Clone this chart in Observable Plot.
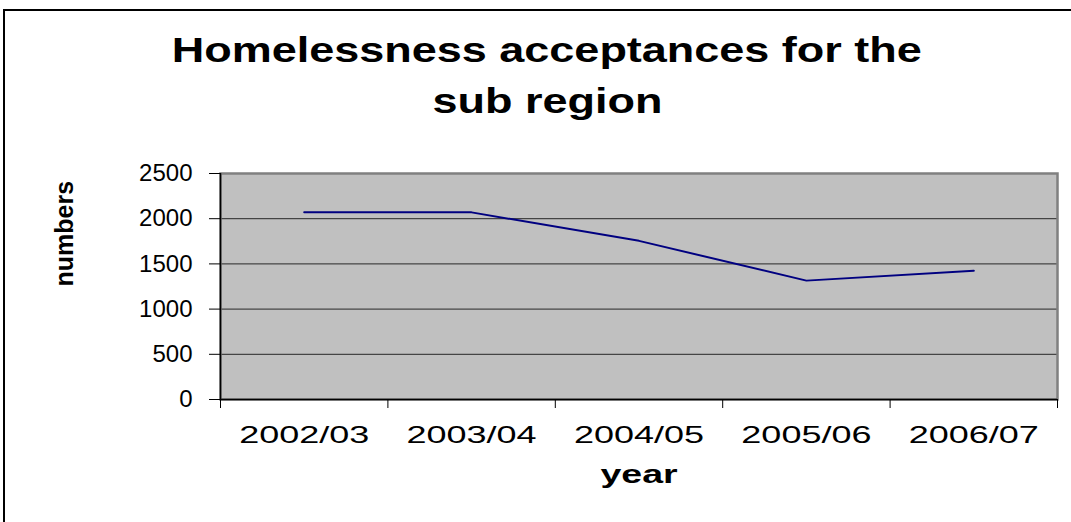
<!DOCTYPE html>
<html>
<head>
<meta charset="utf-8">
<script src="https://cdn.jsdelivr.net/npm/d3@7"></script>
<script src="https://cdn.jsdelivr.net/npm/@observablehq/plot@0.6"></script>
<style>
  html, body { margin: 0; padding: 0; background: #fff; }
  body { width: 1071px; height: 522px; overflow: hidden; position: relative; font-family: "Liberation Sans", Arial, sans-serif; }
  #outer { position: absolute; left: 3px; top: 9px; width: 1200px; height: 800px; border: 2px solid #000; pointer-events: none; box-sizing: border-box; }
  #title { height: 140px; box-sizing: border-box; padding-top: 24px; padding-left: 23px; text-align: center; font-weight: bold; font-size: 35px; line-height: 51px; color: #000; }
  #title span { display: inline-block; transform: scaleX(1.285); transform-origin: center; white-space: nowrap; }
  #chart svg { display: block; }
</style>
</head>
<body>
<div id="title"><div><span>Homelessness acceptances for the</span></div><div><span>sub region</span></div></div>
<div id="chart"></div>
<div id="outer"></div>
<script>
// Data
const years = ["2002/03", "2003/04", "2004/05", "2005/06", "2006/07"];
const acceptances = [2070, 2070, 1755, 1315, 1425];
const yTicks = [0, 500, 1000, 1500, 2000, 2500];
const xLabel = "year";
const yLabel = "numbers";

const data = years.map((year, i) => ({i, year, v: acceptances[i]}));
const xDomain = [-0.5, years.length - 0.5];
const boundaries = d3.range(years.length + 1).map(k => k - 0.5);
const centers = years.map((_, i) => i);

const chart = Plot.plot({
  width: 1071,
  height: 382,
  marginTop: 33,
  marginBottom: 123,
  marginLeft: 220,
  marginRight: 14,
  style: {fontFamily: "'Liberation Sans', Arial, sans-serif", fontSize: "24px", color: "#000", background: "transparent", overflow: "visible"},
  x: {type: "linear", domain: xDomain, label: null},
  y: {domain: [0, 2500], label: null},
  marks: [
    Plot.frame({fill: "#c0c0c0"}),
    Plot.gridY(yTicks, {stroke: "#000", strokeOpacity: 0.8, strokeWidth: 1}),
    Plot.frame({stroke: "#808080", strokeWidth: 2.5}),
    Plot.ruleY([0], {stroke: "#000", strokeWidth: 1.5}),
    Plot.ruleX([xDomain[0]], {stroke: "#000", strokeWidth: 1.5}),
    Plot.axisY(yTicks, {tickSize: 11, tickPadding: 17, tickFormat: "d", fontSize: 24, label: null, stroke: "#000"}),
    Plot.axisX(boundaries, {tickSize: 9, tickFormat: () => "", label: null, stroke: "#000"}),
    Plot.axisX(centers, {tickSize: 0, tickPadding: 26, tickFormat: i => years[i], fontSize: 24, label: null}),
    Plot.line(data, {x: "i", y: "v", stroke: "#000080", strokeWidth: 2}),
    Plot.text([xLabel], {text: d => d, frameAnchor: "bottom", dy: 83, fontWeight: "bold", fontSize: 25, fill: "#000"}),
    Plot.text([yLabel], {text: d => d, frameAnchor: "left", dx: -156, rotate: -90, fontWeight: "bold", fontSize: 25, fill: "#000"})
  ]
});
document.getElementById("chart").append(chart);

// Horizontally stretch the x-axis labels to match the reference's wide glyphs
const yTickText = new Set(yTicks.map(String));
chart.querySelectorAll("text").forEach(t => {
  const s = t.textContent;
  if (!s || s === yLabel || yTickText.has(s)) return;
  const len = t.getComputedTextLength();
  if (len > 0) {
    t.setAttribute("textLength", (len * 1.5).toFixed(1));
    t.setAttribute("lengthAdjust", "spacingAndGlyphs");
  }
});
</script>
</body>
</html>
